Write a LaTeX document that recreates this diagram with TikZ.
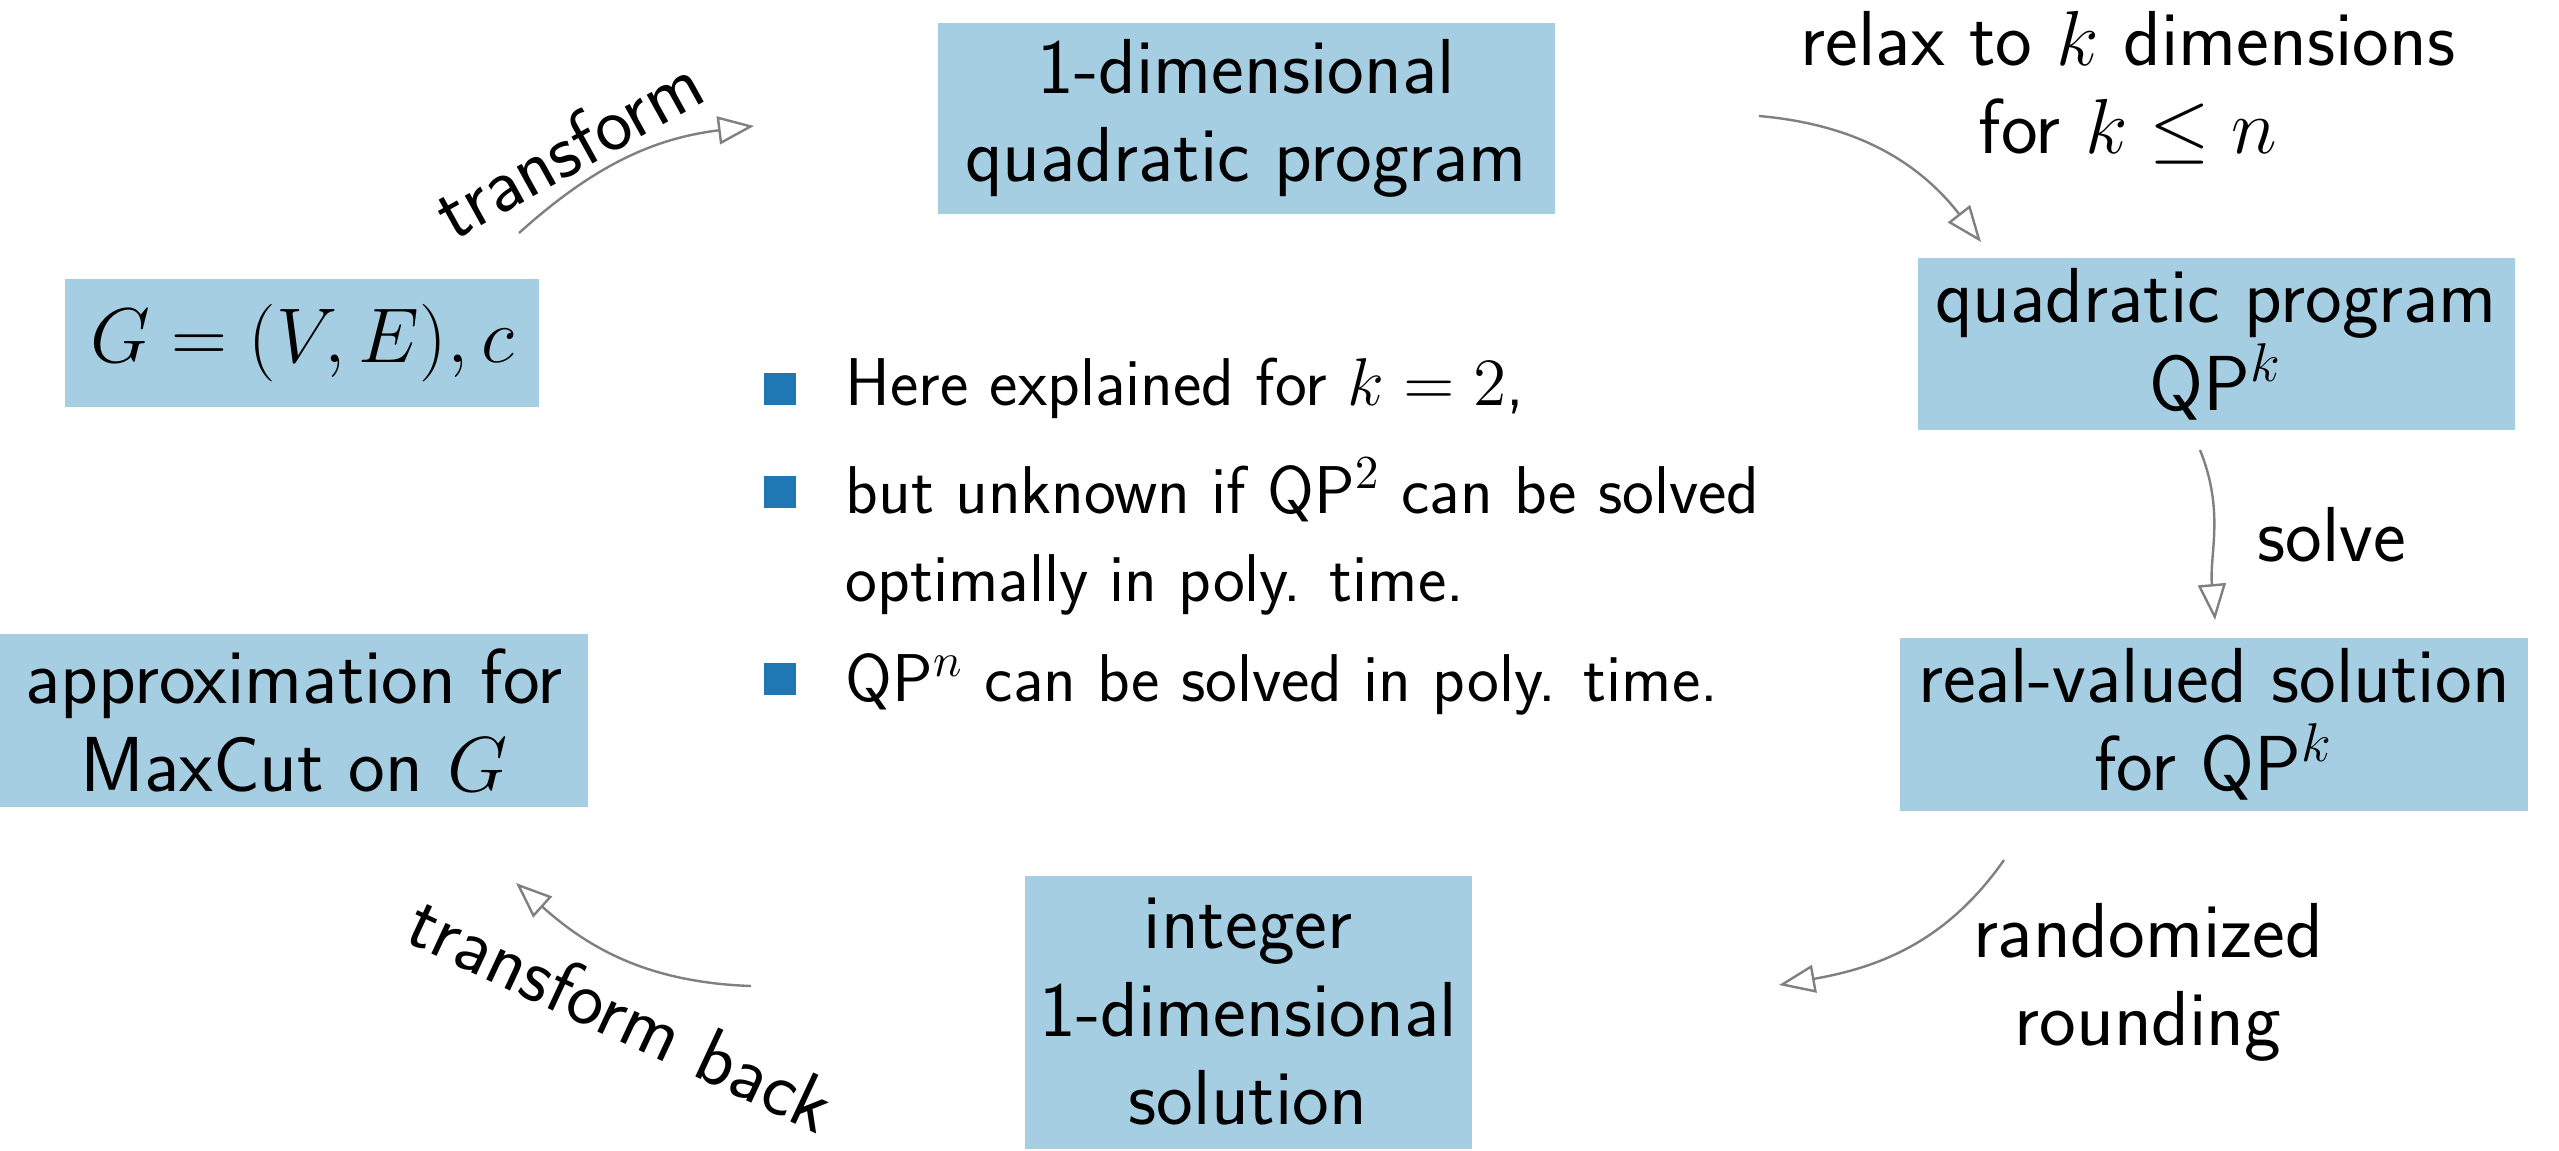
\documentclass[tikz,border=0pt]{standalone}
\usepackage{fix-cm}
\usepackage{fontspec}
\usetikzlibrary{arrows.meta}
\definecolor{boxblue}{HTML}{A6CEE3}
\definecolor{bulletblue}{HTML}{1F78B4}
\begin{document}
\begin{tikzpicture}[x=0.25pt,y=0.25pt,
  box/.style={fill=boxblue, inner sep=0pt, align=center, font=\sffamily\fontsize{19.5}{22}\selectfont},
  lbl/.style={inner sep=0pt, align=center, font=\sffamily\fontsize{19.5}{22}\selectfont},
  conn/.style={draw=gray, line width=0.6pt, -{Triangle[open, length=9pt, width=7pt]}},
  bul/.style={fill=bulletblue, minimum size=8pt, inner sep=0pt},
  itm/.style={anchor=base west, inner sep=0pt, align=left, font=\sffamily\fontsize{16.9}{22}\selectfont}]
\useasboundingbox (0,0) rectangle (2559,1150);
% boxes
\node[box, minimum width=118.5pt, minimum height=32pt, font=\sffamily\fontsize{19.4}{22}\selectfont] (graph) at (302,807) {$G=(V,E),c$};
\node[box, minimum width=154.25pt, minimum height=47.75pt] (oneqp) at (1246,1032) {1-dimensional\\quadratic program};
\node[box, minimum width=149.25pt, minimum height=43pt] (qpk) at (2216,806) {quadratic program\\QP$^k$};
\node[box, minimum width=157pt, minimum height=43.25pt] (real) at (2214,426) {real-valued solution\\for QP$^k$};
\node[box, minimum width=111.75pt, minimum height=68.25pt] (intsol) at (1248,138) {integer\\1-dimensional\\solution};
\node[box, minimum width=147pt, minimum height=43.25pt] (approx) at (294,430) {approximation for\\MaxCut on $G$};
% connector end points
\coordinate (t1s) at (519,917); \coordinate (t1e) at (754,1024);
\coordinate (r1s) at (1759,1034); \coordinate (r1e) at (1981,908);
\coordinate (s1s) at (2200,700); \coordinate (s1e) at (2215,530);
\coordinate (d1s) at (2004,290); \coordinate (d1e) at (1779,165);
\coordinate (b1s) at (751,164); \coordinate (b1e) at (516,267);
\draw[conn] (t1s) to[out=42,in=187] (t1e);
\draw[conn] (r1s) to[out=-5,in=128] (r1e);
\draw[conn] (s1s) to[out=-68,in=95] (s1e);
\draw[conn] (d1s) to[out=-125,in=10] (d1e);
\draw[conn] (b1s) to[out=178,in=-42] (b1e);
% labels
\node[lbl, rotate=29] (ltrans) at (568,1003) {transform};
\node[lbl] (lrelax) at (2128,1062) {relax to $k$ dimensions\\for $k \leq n$};
\node[lbl] (lsolve) at (2332,615) {solve};
\node[lbl] (lround) at (2148,168) {randomized\\rounding};
\node[lbl, rotate=-25] (lback) at (622,137) {transform back};
% bullets
\node[bul] (b1) at (780,761) {};
\node[bul] (b2) at (780,658) {};
\node[bul] (b3) at (780,471) {};
\node[itm] (i1) at (845,745) {Here explained for $k=2$,};
\node[itm] (i2) at (845,549) {but unknown if QP$^2$ can be solved\\optimally in poly. time.};
\node[itm] (i3) at (845,449) {QP$^n$ can be solved in poly. time.};
\end{tikzpicture}
\end{document}
